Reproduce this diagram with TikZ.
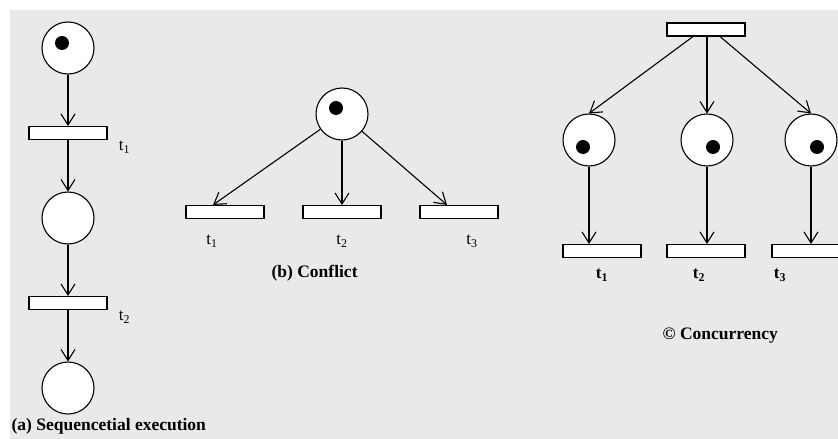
\documentclass[tikz,border=0pt]{standalone}
\usepackage{fontspec}
\setmainfont{Liberation Serif}
\usepackage{tikz}
\usetikzlibrary{positioning,arrows.meta}
\definecolor{panelgray}{RGB}{233,233,233}

\tikzset{
  place/.style={draw, circle, fill=white, minimum size=52pt, inner sep=0pt},
  transition/.style={draw, rectangle, fill=white, minimum width=78pt, minimum height=13pt, inner sep=0pt},
  token/.style={circle, fill=black, minimum size=14pt, inner sep=0pt},
  tlabel/.style={font=\fontsize{17}{19}\selectfont, inner sep=0pt},
  caption/.style={font=\bfseries\fontsize{17.5}{20}\selectfont, inner sep=0pt, anchor=base west},
}

\begin{document}
\begin{tikzpicture}[x=1pt, y=-1pt, line width=1.1pt, node distance=85pt, >={Straight Barb[length=11pt,width=14pt]}]
  \useasboundingbox (0,0) rectangle (838,439);
  \fill[panelgray] (10,10) rectangle (838,439);

  % (a) sequential execution
  \node[place] (pa1) at (68,48) {};
  \node[transition, below of=pa1] (ta1) {};
  \node[place, below of=ta1] (pa2) {};
  \node[transition, below of=pa2] (ta2) {};
  \node[place, below of=ta2] (pa3) {};
  \node[token] (ka1) at ([shift={(-6,-5)}]pa1.center) {};
  \node[tlabel] (la1) at ([shift={(17,14)}]ta1.east) {t\textsubscript{1}};
  \node[tlabel] (la2) at ([shift={(17,14)}]ta2.east) {t\textsubscript{2}};

  \draw[->] (pa1) -- (ta1);
  \draw[->] (ta1) -- (pa2);
  \draw[->] (pa2) -- (ta2);
  \draw[->] (ta2) -- (pa3);

  \node[caption] (capa) at (11,430) {(a) Sequencetial execution};

  % (b) conflict
  \node[place] (pb) at (342,114) {};
  \node[transition] (tb2) at (342,212) {};
  \node[transition, left of=tb2, node distance=117pt] (tb1) {};
  \node[transition, right of=tb2, node distance=117pt] (tb3) {};
  \node[token] (kb) at ([shift={(-6,-6)}]pb.center) {};
  \node[tlabel] (lb1) at ([shift={(-13,29)}]tb1.center) {t\textsubscript{1}};
  \node[tlabel] (lb2) at ([shift={(0,29)}]tb2.center) {t\textsubscript{2}};
  \node[tlabel] (lb3) at ([shift={(13,29)}]tb3.center) {t\textsubscript{3}};

  \draw[->] (pb) -- ([xshift=-12pt]tb1.north);
  \draw[->] (pb) -- (tb2);
  \draw[->] (pb) -- ([xshift=-12pt]tb3.north);

  \node[caption] (capb) at (271,277) {(b) Conflict};

  % (c) concurrency
  \node[transition] (tc) at (706,29.5) {};
  \node[place] (pc1) at (589,140) {};
  \node[place] (pc2) at (707,140) {};
  \node[place] (pc3) at (811,140) {};
  \node[transition] (tc1) at (602,251) {};
  \node[transition] (tc2) at (706,251) {};
  \node[transition] (tc3) at (811,251) {};
  \node[token] (kc1) at ([shift={(-6,7)}]pc1.center) {};
  \node[token] (kc2) at ([shift={(6,7)}]pc2.center) {};
  \node[token] (kc3) at ([shift={(6,7)}]pc3.center) {};
  \node[tlabel, font=\bfseries\fontsize{17}{19}\selectfont] (lc1) at ([shift={(0,24)}]tc1.center) {t\textsubscript{1}};
  \node[tlabel, font=\bfseries\fontsize{17}{19}\selectfont] (lc2) at ([shift={(-7,24)}]tc2.center) {t\textsubscript{2}};
  \node[tlabel, font=\bfseries\fontsize{17}{19}\selectfont] (lc3) at ([shift={(-31,24)}]tc3.center) {t\textsubscript{3}};

  \draw[->] ([xshift=-13pt]tc.south) -- (pc1.north);
  \draw[->] (pc2.north |- tc.south) -- (pc2.north);
  \draw[->] ([xshift=14pt]tc.south) -- (pc3.north);
  \draw[->] (pc1.south) -- (pc1.south |- tc1.north);
  \draw[->] (pc2.south) -- (pc2.south |- tc2.north);
  \draw[->] (pc3.south) -- (pc3.south |- tc3.north);

  \node[caption] (capc) at (662,339) {© Concurrency};
\end{tikzpicture}
\end{document}
